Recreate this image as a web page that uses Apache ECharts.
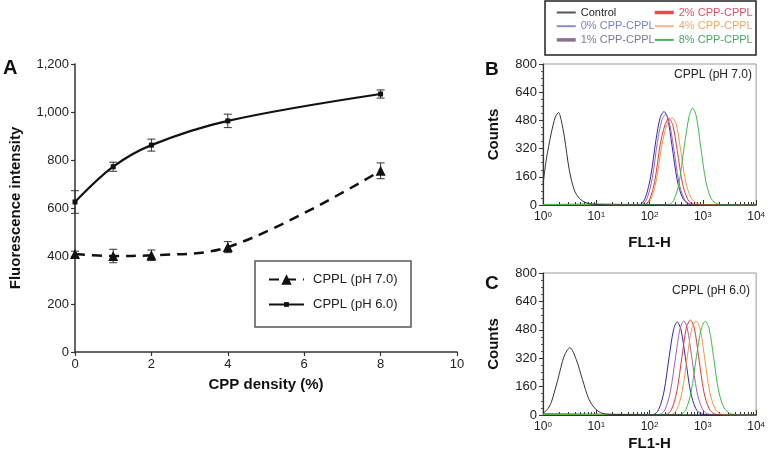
<!DOCTYPE html>
<html><head><meta charset="utf-8">
<script src="https://cdn.jsdelivr.net/npm/echarts@6/dist/echarts.min.js"></script>
<style>html,body{margin:0;padding:0;background:#fff}#c{width:768px;height:458px}</style>
</head><body><div id="c"></div>
<script>
// ---------- Panel A data ----------
const densityPct = [0, 1, 2, 4, 8];
const ph70 = [408, 400, 403, 437, 755];
const ph70Err = [12, 28, 22, 23, 33];
const ph60 = [625, 772, 862, 963, 1075];
const ph60Err = [47, 19, 25, 28, 17];
const aYTicks = [0, 200, 400, 600, 800, 1000, 1200];

// ---------- Panel B (pH 7.0) histograms: [FL1-H, counts] ----------
const bControl = [[1,113],[1.15,255],[1.43,408],[1.71,500],[1.96,525],[2.2,480],[2.52,387],[3.12,198],[3.86,85],[4.8,38],[6.4,13],[8.5,5],[12,2],[20,0],[10000,0]];
const b0 = [[1,3],[10,4],[40,3],[66,3],[83,40],[105,160],[132,370],[158,495],[187,530],[219,490],[263,340],[331,140],[417,40],[525,8],[800,2],[10000,0]];
const b1 = [[1,2],[20,3],[71,3],[89,35],[112,150],[141,360],[170,480],[201,515],[234,470],[282,330],[355,130],[447,35],[562,6],[900,2],[10000,0]];
const b2 = [[1,2],[30,3],[79,3],[100,30],[126,140],[158,340],[195,455],[232,490],[275,450],[331,310],[417,120],[525,30],[661,5],[1000,2],[10000,0]];
const b4 = [[1,2],[30,2],[83,3],[105,30],[132,130],[166,320],[209,450],[267,495],[316,460],[380,320],[479,130],[603,40],[794,8],[1200,2],[10000,0]];
const b8 = [[1,2],[10,4],[100,3],[224,2],[282,25],[355,120],[447,330],[550,500],[646,550],[759,500],[912,330],[1148,130],[1445,35],[1905,5],[3000,2],[10000,0]];

// ---------- Panel C (pH 6.0) histograms ----------
const cControl = [[1,10],[1.2,30],[1.43,71],[1.9,200],[2.5,332],[3.2,379],[4.2,313],[5.5,200],[7.3,88],[9.8,32],[12.9,10],[20,3],[10000,0]];
const c0 = [[1,6],[10,3],[60,2],[117,3],[148,30],[186,130],[234,330],[282,480],[330,525],[389,480],[468,330],[589,130],[741,35],[933,6],[1500,2],[10000,0]];
const c1 = [[1,4],[20,3],[100,2],[155,3],[195,30],[245,130],[309,330],[372,485],[440,530],[513,485],[617,330],[776,130],[977,35],[1230,6],[2000,2],[10000,0]];
const c2 = [[1,5],[30,3],[120,2],[204,3],[257,30],[324,130],[407,330],[490,490],[584,535],[692,490],[832,330],[1047,130],[1318,35],[1660,6],[2500,2],[10000,0]];
const c4 = [[1,3],[40,3],[150,2],[257,3],[324,30],[407,130],[513,330],[617,485],[741,530],[891,485],[1072,330],[1349,130],[1698,35],[2138,6],[3000,2],[10000,0]];
const c8 = [[1,3],[50,4],[200,2],[380,3],[479,30],[603,130],[759,330],[933,485],[1107,528],[1318,485],[1585,330],[1995,130],[2512,40],[3311,8],[4500,2],[10000,0]];

const countTicks = [0, 160, 320, 480, 640, 800];
const decadeMinorTicks = [2,3,4,5,6,7,8,9,20,30,40,50,60,70,80,90,200,300,400,500,600,700,800,900,2000,3000,4000,5000,6000,7000,8000,9000];

const histNames = ['Control','0% CPP-CPPL','1% CPP-CPPL','2% CPP-CPPL','4% CPP-CPPL','8% CPP-CPPL'];
const histColors = ['#333333','#2b2bb0','#a060b8','#e8323c','#f5963c','#3cba4a'];
const legendTextColors = ['#222222','#7b7fc4','#85758e','#e05060','#f0a868','#48a860'];
const legendLineColors = ['#555555','#8c8ccc','#8a7090','#e84850','#f5b888','#50b060'];
const legendLineWidths = [2, 2, 3.5, 3.5, 2, 2];

const FONT = 'Liberation Sans, Arial, sans-serif';
const chart = echarts.init(document.getElementById('c'), null, {renderer: 'canvas'});

function errSeries(name, xs, ys, errs) {
  return {
    type: 'custom', name: name + ' err', xAxisIndex: 0, yAxisIndex: 0, silent: true, z: 1,
    encode: {x: 0, y: [1, 2]},
    data: xs.map((x, i) => [x, ys[i] - errs[i], ys[i] + errs[i]]),
    renderItem: function (params, api) {
      const x = api.value(0);
      const lo = api.coord([x, api.value(1)]);
      const hi = api.coord([x, api.value(2)]);
      const hw = 4;
      const st = {stroke: '#333', lineWidth: 1};
      return {type: 'group', children: [
        {type: 'line', shape: {x1: lo[0], y1: lo[1], x2: hi[0], y2: hi[1]}, style: st},
        {type: 'line', shape: {x1: lo[0]-hw, y1: lo[1], x2: lo[0]+hw, y2: lo[1]}, style: st},
        {type: 'line', shape: {x1: hi[0]-hw, y1: hi[1], x2: hi[0]+hw, y2: hi[1]}, style: st}
      ]};
    }
  };
}

const axisLineDark = {show: true, lineStyle: {color: '#333', width: 1.5}};

function logAxis(gridIndex, nameGap) {
  return {
    type: 'log', logBase: 10, gridIndex: gridIndex, min: 1, max: 10000,
    name: 'FL1-H', nameLocation: 'middle', nameGap: nameGap,
    nameTextStyle: {fontFamily: FONT, fontSize: 15, fontWeight: 'bold', color: '#111'},
    axisLine: {show: true, onZero: false, lineStyle: {color: '#333', width: 1.2}},
    axisTick: {show: true, inside: true, length: 5, lineStyle: {color: '#333'}},
    splitLine: {show: false},
    axisLabel: {
      margin: 6, color: '#222', fontFamily: FONT, fontSize: 12,
      formatter: function (v) { return '10{s|' + Math.round(Math.log10(v)) + '}'; },
      rich: {s: {fontSize: 8, fontFamily: FONT, color: '#222', verticalAlign: 'top', lineHeight: 8, padding: [0,0,6,0]}}
    }
  };
}
function minorLogAxis(gridIndex) {
  return {
    type: 'log', logBase: 10, gridIndex: gridIndex, min: 1, max: 10000, position: 'bottom',
    axisLine: {show: false}, axisLabel: {show: false}, splitLine: {show: false},
    axisTick: {show: true, inside: true, length: 3, customValues: decadeMinorTicks, lineStyle: {color: '#333'}}
  };
}
function countAxis(gridIndex) {
  return {
    type: 'value', gridIndex: gridIndex, min: 0, max: 800, interval: 160,
    name: 'Counts', nameLocation: 'middle', nameGap: 42,
    nameTextStyle: {fontFamily: FONT, fontSize: 15, fontWeight: 'bold', color: '#111'},
    axisLine: {show: true, lineStyle: {color: '#333', width: 1.2}},
    axisTick: {show: true, length: 4, lineStyle: {color: '#333'}},
    minorTick: {show: true, splitNumber: 4, length: 2, lineStyle: {color: '#555'}},
    splitLine: {show: false},
    axisLabel: {margin: 6, color: '#222', fontFamily: FONT, fontSize: 13,
      customValues: countTicks}
  };
}

function histSeries(xIdx, yIdx, arrays) {
  return arrays.map((d, i) => ({
    type: 'line', name: histNames[i], xAxisIndex: xIdx, yAxisIndex: yIdx,
    data: d, symbol: 'none', smooth: 0.3, z: i === 0 ? 3 : 2,
    lineStyle: {color: histColors[i], width: 1}, itemStyle: {color: histColors[i]}
  }));
}

function legendCol(left, idxs) {
  return {
    orient: 'vertical', left: left, top: 7, padding: 0, itemGap: 2.7,
    itemWidth: 19, itemHeight: 12, selectedMode: false,
    data: idxs.map(i => ({
      name: histNames[i],
      itemStyle: {color: 'rgba(0,0,0,0)', borderWidth: 0, opacity: 0},
      lineStyle: {color: legendLineColors[i], width: legendLineWidths[i]},
      textStyle: {color: legendTextColors[i], fontSize: 11, fontFamily: FONT}
    })),
    textStyle: {fontSize: 11, fontFamily: FONT}
  };
}

const legendATextStyle = {fontSize: 13, fontFamily: FONT, color: '#222', padding: [0,0,0,4]};

const option = {
  animation: false,
  backgroundColor: '#fff',
  textStyle: {fontFamily: FONT},
  grid: [
    {left: 68, top: 64, width: 389, height: 288},
    {left: 543, top: 64, width: 216, height: 141, show: true, borderColor: '#999', borderWidth: 1},
    {left: 543, top: 273, width: 216, height: 142, show: true, borderColor: '#999', borderWidth: 1}
  ],
  xAxis: [
    {type: 'value', gridIndex: 0, min: 0, max: 10, interval: 2,
     name: 'CPP density (%)', nameLocation: 'middle', nameGap: 25,
     nameTextStyle: {fontFamily: FONT, fontSize: 15, fontWeight: 'bold', color: '#111'},
     axisLine: axisLineDark, axisTick: {show: true, length: 4, lineStyle: {color: '#333', width: 1.2}},
     splitLine: {show: false},
     axisLabel: {margin: 6, color: '#222', fontFamily: FONT, fontSize: 13}},
    logAxis(1, 30), minorLogAxis(1),
    logAxis(2, 20), minorLogAxis(2)
  ],
  yAxis: [
    {type: 'value', gridIndex: 0, min: 0, max: 1200, interval: 200,
     name: 'Fluorescence intensity', nameLocation: 'middle', nameGap: 52,
     nameTextStyle: {fontFamily: FONT, fontSize: 15, fontWeight: 'bold', color: '#111'},
     axisLine: axisLineDark, axisTick: {show: true, length: 4, lineStyle: {color: '#333', width: 1.2}},
     splitLine: {show: false},
     axisLabel: {margin: 6, color: '#222', fontFamily: FONT, fontSize: 13,
       customValues: aYTicks,
       formatter: v => v.toLocaleString('en-US')}},
    countAxis(1), countAxis(2)
  ],
  legend: [
    {orient: 'vertical', left: 268, top: 273, padding: 0,
     itemWidth: 35, itemHeight: 13, selectedMode: false,
     data: ['CPPL (pH 7.0)'], textStyle: legendATextStyle},
    {orient: 'vertical', left: 268, top: 298, padding: 0,
     itemWidth: 35, itemHeight: 6, selectedMode: false,
     data: ['CPPL (pH 6.0)'], textStyle: legendATextStyle},
    legendCol(555, [0, 1, 2]),
    legendCol(653, [3, 4, 5])
  ],
  graphic: [
    {type: 'rect', shape: {x: 255, y: 261, width: 156, height: 66}, style: {fill: 'none', stroke: '#555', lineWidth: 1.5}, silent: true},
    {type: 'rect', shape: {x: 545, y: 1, width: 211, height: 54}, style: {fill: 'none', stroke: '#222', lineWidth: 1.5}, silent: true},
    {type: 'text', left: 3, top: 58, style: {text: 'A', font: 'bold 20px ' + FONT, fill: '#111'}},
    {type: 'text', left: 485, top: 60, style: {text: 'B', font: 'bold 19px ' + FONT, fill: '#111'}},
    {type: 'text', left: 485, top: 274, style: {text: 'C', font: 'bold 19px ' + FONT, fill: '#111'}},
    {type: 'text', right: 16, top: 69, style: {text: 'CPPL (pH 7.0)', font: '12px ' + FONT, fill: '#222'}},
    {type: 'text', right: 18, top: 285, style: {text: 'CPPL (pH 6.0)', font: '12px ' + FONT, fill: '#222'}}
  ],
  series: [
    {type: 'line', name: 'CPPL (pH 7.0)', xAxisIndex: 0, yAxisIndex: 0,
     data: densityPct.map((x, i) => [x, ph70[i]]), smooth: 0.35,
     symbol: 'triangle', symbolSize: 10, z: 3,
     lineStyle: {color: '#111', width: 2.5, type: [10, 7]}, itemStyle: {color: '#111'}},
    {type: 'line', name: 'CPPL (pH 6.0)', xAxisIndex: 0, yAxisIndex: 0,
     data: densityPct.map((x, i) => [x, ph60[i]]), smooth: 0.35,
     symbol: 'rect', symbolSize: 5, z: 3,
     lineStyle: {color: '#111', width: 2.2}, itemStyle: {color: '#111'}},
    errSeries('ph70', densityPct, ph70, ph70Err),
    errSeries('ph60', densityPct, ph60, ph60Err)
  ].concat(histSeries(1, 1, [bControl, b0, b1, b2, b4, b8]))
   .concat(histSeries(3, 2, [cControl, c0, c1, c2, c4, c8]))
};
chart.setOption(option);
</script></body></html>
